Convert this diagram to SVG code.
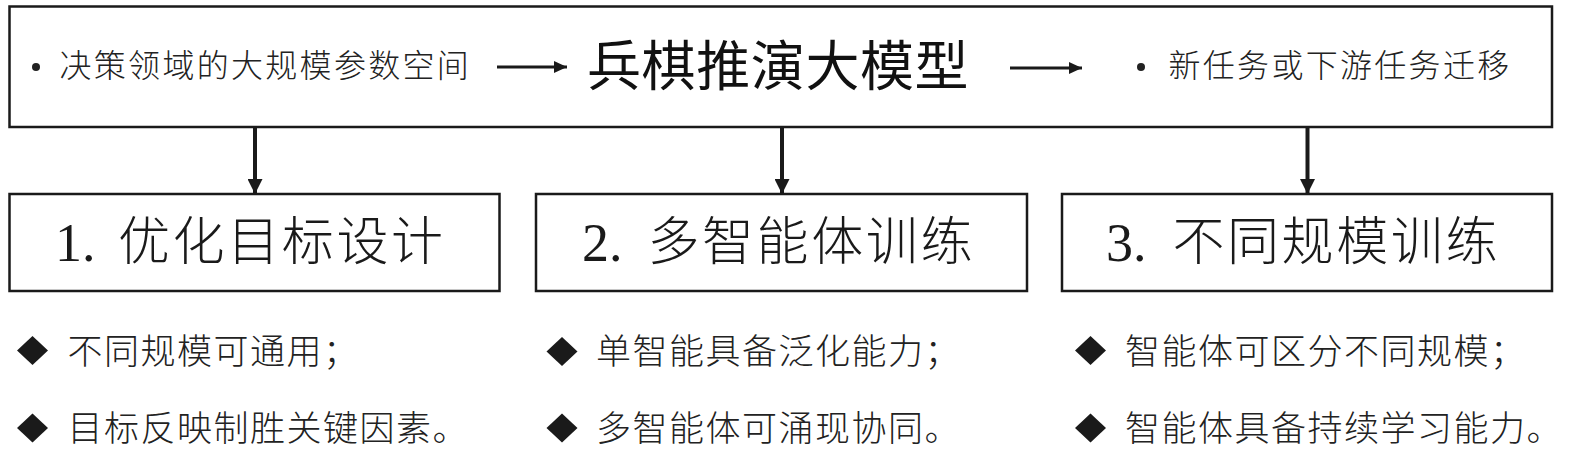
<svg xmlns="http://www.w3.org/2000/svg" width="1575" height="449" viewBox="0 0 1575 449">
<style>
.box{fill:#fff;stroke:#1a1a1a;stroke-width:2.5}
.cn{font-family:"Noto Sans CJK SC","Noto Sans",sans-serif;fill:#222}
.top{font-size:32px;letter-spacing:2.3px;font-weight:300}
.title{font-size:54px;letter-spacing:0.6px;font-weight:400;fill:#111}
.lbl{font-size:52px;letter-spacing:2.6px;font-weight:300;fill:#1a1a1a}
.num{font-family:"Liberation Serif",serif;font-size:54px;fill:#1a1a1a}
.li{font-size:35px;letter-spacing:1.5px;font-weight:300}
.dia{fill:#1a1a1a}
.conn{stroke:#1a1a1a;fill:none}
</style>
<defs>
<marker id="ah" viewBox="0 0 13 12" refX="13" refY="6" markerWidth="13" markerHeight="12" markerUnits="userSpaceOnUse" orient="auto"><path d="M0,0 L13,6 L0,12 Z" fill="#1a1a1a"/></marker>
<marker id="av" viewBox="0 0 15 15" refX="15" refY="7.5" markerWidth="15" markerHeight="15" markerUnits="userSpaceOnUse" orient="auto"><path d="M0,0 L15,7.5 L0,15 Z" fill="#1a1a1a"/></marker>
</defs>
<rect width="1575" height="449" fill="#fff"/>
<g id="top-node">
<rect class="box" x="9.5" y="6.5" width="1542.5" height="120.5"/>
<circle cx="36" cy="67" r="4" fill="#222"/>
<text class="cn top" x="59.5" y="77">决策领域的大规模参数空间</text>
<text class="cn title" x="587" y="85.5">兵棋推演大模型</text>
<circle cx="1141" cy="67" r="4" fill="#222"/>
<text class="cn top" x="1168.5" y="77">新任务或下游任务迁移</text>
</g>
<g id="connectors">
<line class="conn" x1="497" y1="67" x2="567" y2="67" stroke-width="3" marker-end="url(#ah)"/>
<line class="conn" x1="1010" y1="68" x2="1082" y2="68" stroke-width="3" marker-end="url(#ah)"/>
<line class="conn" x1="255" y1="127" x2="255" y2="194" stroke-width="4" marker-end="url(#av)"/>
<line class="conn" x1="782" y1="127" x2="782" y2="194" stroke-width="4" marker-end="url(#av)"/>
<line class="conn" x1="1307.5" y1="127" x2="1307.5" y2="194" stroke-width="4" marker-end="url(#av)"/>
</g>
<g id="node-1">
<rect class="box" x="9.5" y="194" width="490" height="97"/>
<text y="261"><tspan class="num" x="55">1.</tspan><tspan class="cn lbl" x="118" y="260">优化目标设计</tspan></text>
</g>
<g id="node-2">
<rect class="box" x="536" y="194" width="491" height="97"/>
<text y="261"><tspan class="num" x="582">2.</tspan><tspan class="cn lbl" x="647.4" y="260">多智能体训练</tspan></text>
</g>
<g id="node-3">
<rect class="box" x="1062" y="194" width="490" height="97"/>
<text y="261"><tspan class="num" x="1106">3.</tspan><tspan class="cn lbl" x="1172.4" y="260">不同规模训练</tspan></text>
</g>
<g id="list-1">
<path class="dia" d="M32.5,336 L48,350.5 L32.5,365 L17,350.5 Z"/>
<text class="cn li" x="67.5" y="363.5">不同规模可通用；</text>
<path class="dia" d="M32.5,413.5 L48,428 L32.5,442.5 L17,428 Z"/>
<text class="cn li" x="67.5" y="441">目标反映制胜关键因素。</text>
</g>
<g id="list-2">
<path class="dia" d="M562,337 L577.5,351.5 L562,366 L546.5,351.5 Z"/>
<text class="cn li" x="596" y="363.5">单智能具备泛化能力；</text>
<path class="dia" d="M562,413.5 L577.5,428 L562,442.5 L546.5,428 Z"/>
<text class="cn li" x="596" y="441">多智能体可涌现协同。</text>
</g>
<g id="list-3">
<path class="dia" d="M1090.5,336 L1106,350.5 L1090.5,365 L1075,350.5 Z"/>
<text class="cn li" x="1125" y="363.5">智能体可区分不同规模；</text>
<path class="dia" d="M1090.5,413.5 L1106,428 L1090.5,442.5 L1075,428 Z"/>
<text class="cn li" x="1125" y="441">智能体具备持续学习能力。</text>
</g>
</svg>
